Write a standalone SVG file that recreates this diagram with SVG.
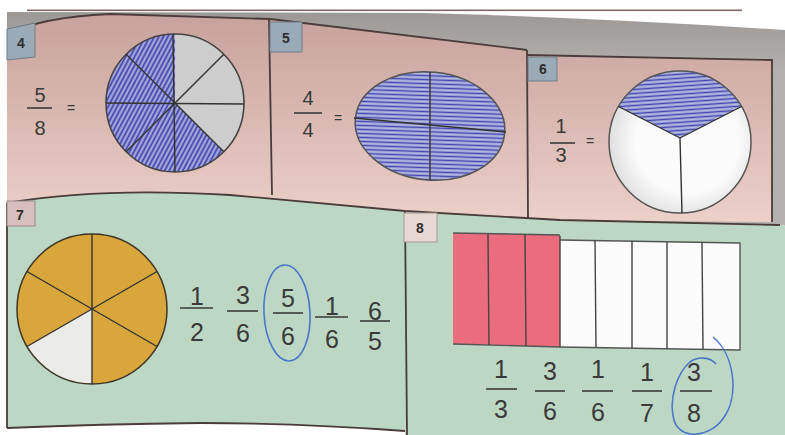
<svg xmlns="http://www.w3.org/2000/svg" width="785" height="435" viewBox="0 0 785 435">
<defs>
<linearGradient id="pink" gradientUnits="userSpaceOnUse" x1="0" y1="15" x2="0" y2="222">
<stop offset="0" stop-color="#c8a29c"/>
<stop offset="1" stop-color="#ecd0c9"/>
</linearGradient>
<linearGradient id="gray" gradientUnits="userSpaceOnUse" x1="0" y1="12" x2="0" y2="70">
<stop offset="0" stop-color="#9c9896"/>
<stop offset="1" stop-color="#b4b0ae"/>
</linearGradient>
<pattern id="hatchD" patternUnits="userSpaceOnUse" width="4" height="4" patternTransform="rotate(-62)">
<rect width="4" height="4" fill="#aeb2de"/>
<line x1="0" y1="1.5" x2="4" y2="1.5" stroke="#3b3cab" stroke-width="1.8"/>
</pattern>
<pattern id="hatchH" patternUnits="userSpaceOnUse" width="6" height="4" patternTransform="rotate(-4)">
<rect width="6" height="4" fill="#b8bce2"/>
<line x1="0" y1="1.5" x2="6" y2="1.5" stroke="#4347b0" stroke-width="1.6"/>
</pattern>
<radialGradient id="white6" cx="0.55" cy="0.5" r="0.6">
<stop offset="0.6" stop-color="#fbfbfb"/>
<stop offset="1" stop-color="#d8d8d8"/>
</radialGradient>
<style>
.num{font-family:"Liberation Sans",Arial,sans-serif;fill:#3a3a3a;text-anchor:middle}
.big{font-size:25px}
.mid{font-size:20px}
.tag{font-family:"Liberation Sans",Arial,sans-serif;font-size:14px;font-weight:bold;fill:#2e2e2e;text-anchor:middle}
.fl{stroke:#3a3a3a;stroke-width:1.6}
.edge{fill:none;stroke:#4a3c3a;stroke-width:1.8}
.seg{stroke:#333;stroke-width:1.4}
.pen{fill:none;stroke:#4a78c8;stroke-width:1.6}
</style>
</defs>
<rect width="785" height="435" fill="#ffffff"/>
<!-- photo background gray -->
<path d="M7,12 L423,13 Q600,18 785,30 L785,228 L7,228 Z" fill="url(#gray)"/>
<rect x="27" y="9.5" width="715" height="1.6" fill="#806866"/>
<!-- pink top panels -->
<path d="M7,35 Q40,17 110,14 L270,19 L527,50 L527,55 L772,60 L772,222 L560,220 L405,211 L230,195 Q100,187 7,203 Z" fill="url(#pink)"/>
<path class="edge" d="M7,35 Q40,17 110,14 L270,19 L527,50"/>
<path class="edge" d="M527,55 L772,60 L772,222"/>
<line class="edge" x1="269" y1="19" x2="272" y2="195"/>
<line class="edge" x1="527" y1="50" x2="528" y2="219"/>
<!-- green bottom panels -->
<path d="M7,203 Q100,187 230,195 L405,211 L560,220 L785,225 L785,435 L405,435 L405,431 Q300,423 200,423 Q100,424 7,428 Z" fill="#bcd8c4"/>
<path class="edge" d="M7,203 Q100,187 230,195 L405,211 L560,220 L780,225"/>
<path class="edge" d="M7,428 Q100,424 200,423 Q300,423 405,431"/>
<line class="edge" x1="7" y1="203" x2="7" y2="428"/>
<line class="edge" x1="405" y1="211" x2="407" y2="435"/>

<!-- Panel 4 -->
<g id="panel4">
<path d="M7,29 L35,23 L35,57 L7,60 Z" fill="#9aabb7" stroke="#6f7c86" stroke-width="1"/>
<text class="tag" x="21" y="48">4</text>
<text class="num mid" x="40" y="102">5</text>
<line class="fl" x1="27" y1="108" x2="52" y2="108" stroke-width="1.3"/>
<text class="num mid" x="40" y="135">8</text>
<text class="num" x="71" y="113" font-size="14">=</text>
<path d="M175,103 L175,34 A69,69 0 1,0 223.8,151.8 Z" fill="url(#hatchD)"/>
<path d="M175,103 L223.8,151.8 A69,69 0 0,0 175,34 Z" fill="#cdcdcd"/>
<circle cx="175" cy="103" r="69" fill="none" stroke="#444" stroke-width="1.6"/>
<line class="seg" x1="173" y1="34" x2="175" y2="172"/>
<line class="seg" x1="106" y1="103" x2="244" y2="104"/>
<line class="seg" x1="126.2" y1="54.2" x2="223.8" y2="151.8" stroke-width="0.8"/>
<line class="seg" x1="126.2" y1="151.8" x2="223.8" y2="54.2"/>
</g>

<!-- Panel 5 -->
<g id="panel5">
<rect x="270" y="22" width="32" height="30" fill="#9aabb7" stroke="#6f7c86" stroke-width="1"/>
<text class="tag" x="286" y="43">5</text>
<text class="num mid" x="308" y="105">4</text>
<line class="fl" x1="294" y1="113" x2="322" y2="113" stroke-width="1.3"/>
<text class="num mid" x="308" y="137">4</text>
<text class="num" x="338" y="123" font-size="14">=</text>
<ellipse cx="430" cy="126" rx="75" ry="54" fill="url(#hatchH)" stroke="#555" stroke-width="1.5" transform="rotate(6 430 126)"/>
<line class="seg" x1="430" y1="72" x2="430" y2="180"/>
<line class="seg" x1="354" y1="118" x2="506" y2="132"/>
</g>

<!-- Panel 6 -->
<g id="panel6">
<rect x="528" y="57" width="29" height="24" fill="#9aabb7" stroke="#6f7c86" stroke-width="1"/>
<text class="tag" x="543" y="74">6</text>
<text class="num mid" x="561" y="133">1</text>
<line class="fl" x1="550" y1="143" x2="575" y2="143" stroke-width="1.3"/>
<text class="num mid" x="561" y="162">3</text>
<text class="num" x="590" y="146" font-size="14">=</text>
<circle cx="680" cy="142" r="71" fill="url(#white6)"/>
<path d="M680,138 L741.5,106.5 A71,71 0 0,0 618.5,106.5 Z" fill="url(#hatchH)"/>
<circle cx="680" cy="142" r="71" fill="none" stroke="#555" stroke-width="1.5"/>
<line class="seg" x1="680" y1="138" x2="618.5" y2="106.5"/>
<line class="seg" x1="680" y1="138" x2="741.5" y2="106.5"/>
<line class="seg" x1="680" y1="138" x2="682" y2="213"/>
</g>

<!-- Panel 7 -->
<g id="panel7">
<rect x="7" y="201" width="28" height="25" fill="#d9bfbb" stroke="#9c8a88" stroke-width="1"/>
<text class="tag" x="20" y="220">7</text>
<circle cx="92" cy="309" r="75" fill="#d9a63c"/>
<path d="M92,309 L27,346.5 A75,75 0 0,0 92,384 Z" fill="#ebebe8"/>
<circle cx="92" cy="309" r="75" fill="none" stroke="#3d3424" stroke-width="1.5"/>
<line class="seg" x1="92" y1="234" x2="92" y2="384" stroke="#2e2a20"/>
<line class="seg" x1="27" y1="271.5" x2="157" y2="346.5" stroke="#2e2a20"/>
<line class="seg" x1="27" y1="346.5" x2="157" y2="271.5" stroke="#2e2a20"/>
<text class="num big" x="197" y="305">1</text>
<line class="fl" x1="180" y1="308" x2="213" y2="308"/>
<text class="num big" x="197" y="341">2</text>
<text class="num big" x="243" y="304">3</text>
<line class="fl" x1="227" y1="311" x2="258" y2="311"/>
<text class="num big" x="243" y="342">6</text>
<text class="num big" x="288" y="307">5</text>
<line class="fl" x1="273" y1="313" x2="303" y2="313"/>
<text class="num big" x="288" y="345">6</text>
<text class="num big" x="332" y="315">1</text>
<line class="fl" x1="315" y1="317" x2="348" y2="317"/>
<text class="num big" x="332" y="348">6</text>
<text class="num big" x="375" y="320">6</text>
<line class="fl" x1="360" y1="321" x2="390" y2="321"/>
<text class="num big" x="375" y="350">5</text>
<ellipse class="pen" cx="287" cy="313" rx="23" ry="48" transform="rotate(-3 287 313)"/>
</g>

<!-- Panel 8 -->
<g id="panel8">
<rect x="404" y="213" width="33" height="29" fill="#e8d8d2" stroke="#a89894" stroke-width="1"/>
<text class="tag" x="420" y="233">8</text>
<path d="M453,233 L560,235 L560,347 L453,344 Z" fill="#ea6c7d"/>
<path d="M560,240 L740,243 L740,350 L560,347 Z" fill="#fbfbfb"/>
<path d="M453,233 L560,235 M560,240 L740,243 L740,350 L560,347 L453,344" fill="none" stroke="#555" stroke-width="1.4"/>
<g stroke="#444" stroke-width="1.4">
<line x1="488" y1="234" x2="489" y2="345"/>
<line x1="525" y1="235" x2="526" y2="346"/>
<line x1="560" y1="236" x2="560" y2="347"/>
<line x1="595" y1="240" x2="596" y2="347"/>
<line x1="632" y1="241" x2="632" y2="348"/>
<line x1="667" y1="242" x2="667" y2="349"/>
<line x1="702" y1="242" x2="703" y2="349"/>
</g>
<text class="num big" x="501" y="378">1</text>
<line class="fl" x1="486" y1="389" x2="517" y2="389"/>
<text class="num big" x="501" y="418">3</text>
<text class="num big" x="550" y="380">3</text>
<line class="fl" x1="535" y1="391" x2="565" y2="391"/>
<text class="num big" x="550" y="420">6</text>
<text class="num big" x="598" y="378">1</text>
<line class="fl" x1="582" y1="391" x2="613" y2="391"/>
<text class="num big" x="598" y="421">6</text>
<text class="num big" x="647" y="381">1</text>
<line class="fl" x1="632" y1="391" x2="662" y2="391"/>
<text class="num big" x="647" y="422">7</text>
<text class="num big" x="694" y="381">3</text>
<line class="fl" x1="680" y1="391" x2="712" y2="391"/>
<text class="num big" x="694" y="422">8</text>
<path class="pen" stroke="#4a5cb8" d="M713,337 C735,355 740,398 722,420 C708,438 680,440 674,420 C668,398 678,372 690,362 C698,356 710,357 716,364"/>
</g>
</svg>
